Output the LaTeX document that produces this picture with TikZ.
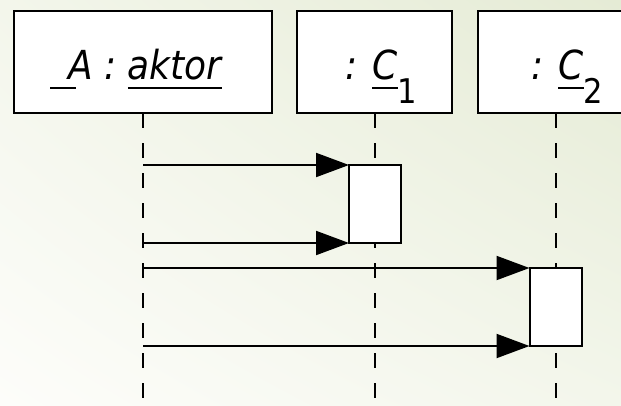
\documentclass[tikz,border=0pt]{standalone}
\usepackage{fontspec}
\setmainfont{DejaVu Sans}
\usepackage{graphicx}
\usetikzlibrary{arrows.meta,shadings}
\definecolor{bgL}{RGB}{253,253,250}
\definecolor{bgM}{RGB}{243,246,235}
\definecolor{bgR}{RGB}{229,235,213}
\newcommand\myul[1]{\setbox0\hbox{#1}\rlap{\rule[-10pt]{\wd0}{2pt}}#1}
\newcommand\mysub[1]{\raisebox{-24pt}{\upshape\fontsize{34}{40}\selectfont #1}}
\begin{document}
\begin{tikzpicture}[x=1pt,y=-1pt,
  head/.style={draw=black,fill=white,line width=2pt,minimum width=155pt,minimum height=102pt,inner sep=0pt,outer sep=0pt},
  act/.style={draw=black,fill=white,line width=2pt,minimum width=52pt,minimum height=78pt,inner sep=0pt,outer sep=0pt},
  life/.style={draw=black,line width=2pt,dash pattern=on 15pt off 15pt},
  msg/.style={draw=black,line width=2pt,-{Triangle[length=33pt,width=24pt]}},
  lbl/.style={font=\fontsize{40}{48}\selectfont\itshape,inner sep=0pt,anchor=base}
]
\useasboundingbox (0,0) rectangle (621,405);
\clip (0,0) rectangle (621,405);
\shade[lower left=bgL,upper right=bgR,lower right=bgM,upper left=bgM] (0,0) rectangle (621,405);

% heads
\node[head,minimum width=258pt] (hA) at (143,62) {};
\node[head] (hC1) at (374.5,62) {};
\node[head] (hC2) at (555.5,62) {};

\node[lbl] (tA) at (145,79) {\scalebox{0.9}[1]{\rlap{\kern-20pt\rule[-10pt]{29pt}{2pt}}A : \myul{aktor}}};
\node[lbl] (tC1) at (381,79) {\scalebox{0.9}[1]{: \myul{C}\mysub{1}}};
\node[lbl] (tC2) at (567,79) {\scalebox{0.9}[1]{: \myul{C}\mysub{2}}};

% lifeline ends
\coordinate (eA) at (143,405);
\coordinate (eC1) at (374.5,405);
\coordinate (eC2) at (555.5,405);
\draw[life] (hA.south) -- (eA);
\draw[life] (hC1.south) -- (eC1);
\draw[life] (hC2.south) -- (eC2);

% activations
\node[act] (a1) at (375,204) {};
\node[act] (a2) at (555.5,307) {};

% messages
\coordinate (s1) at (143,165);
\coordinate (s2) at (143,243);
\coordinate (s3) at (143,268);
\coordinate (s4) at (143,346);
\draw[msg] (s1) -- (a1.north west);
\draw[msg] (s2) -- (a1.south west);
\draw[msg] (s3) -- (a2.north west);
\draw[msg] (s4) -- (a2.south west);
\end{tikzpicture}
\end{document}
